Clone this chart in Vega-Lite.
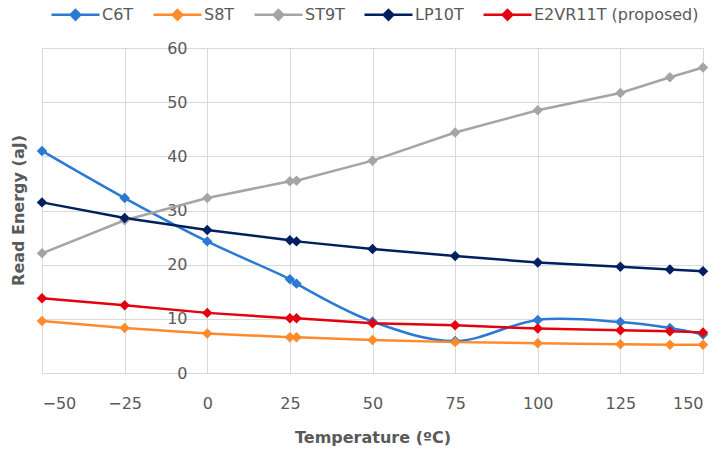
{
  "$schema": "https://vega.github.io/schema/vega-lite/v6.json",
  "width": 661,
  "height": 325,
  "autosize": "none",
  "padding": {"left": 42, "top": 48, "right": 22, "bottom": 84},
  "background": "white",
  "config": {
    "view": {"stroke": null},
    "font": "DejaVu Sans",
    "axis": {"gridColor": "#d9d9d9", "gridWidth": 1, "domain": false, "ticks": false, "labelFont": "DejaVu Sans", "labelFontSize": 16, "labelColor": "#595959", "titleFont": "DejaVu Sans", "titleFontSize": 16, "titleFontWeight": "bold", "titleColor": "#595959"}
  },
  "data": {"values": [
    {"series": "C6T", "t": -50, "e": 41.0}, {"series": "C6T", "t": -25, "e": 32.3}, {"series": "C6T", "t": 0, "e": 24.3}, {"series": "C6T", "t": 25, "e": 17.3}, {"series": "C6T", "t": 27, "e": 16.5}, {"series": "C6T", "t": 50, "e": 9.5}, {"series": "C6T", "t": 75, "e": 5.9}, {"series": "C6T", "t": 100, "e": 9.8}, {"series": "C6T", "t": 125, "e": 9.4}, {"series": "C6T", "t": 140, "e": 8.3}, {"series": "C6T", "t": 150, "e": 7.1},
    {"series": "S8T", "t": -50, "e": 9.6}, {"series": "S8T", "t": -25, "e": 8.3}, {"series": "S8T", "t": 0, "e": 7.3}, {"series": "S8T", "t": 25, "e": 6.6}, {"series": "S8T", "t": 27, "e": 6.6}, {"series": "S8T", "t": 50, "e": 6.1}, {"series": "S8T", "t": 75, "e": 5.7}, {"series": "S8T", "t": 100, "e": 5.5}, {"series": "S8T", "t": 125, "e": 5.3}, {"series": "S8T", "t": 140, "e": 5.2}, {"series": "S8T", "t": 150, "e": 5.2},
    {"series": "ST9T", "t": -50, "e": 22.1}, {"series": "ST9T", "t": -25, "e": 28.2}, {"series": "ST9T", "t": 0, "e": 32.3}, {"series": "ST9T", "t": 25, "e": 35.4}, {"series": "ST9T", "t": 27, "e": 35.5}, {"series": "ST9T", "t": 50, "e": 39.2}, {"series": "ST9T", "t": 75, "e": 44.4}, {"series": "ST9T", "t": 100, "e": 48.5}, {"series": "ST9T", "t": 125, "e": 51.7}, {"series": "ST9T", "t": 140, "e": 54.6}, {"series": "ST9T", "t": 150, "e": 56.4},
    {"series": "LP10T", "t": -50, "e": 31.5}, {"series": "LP10T", "t": -25, "e": 28.6}, {"series": "LP10T", "t": 0, "e": 26.4}, {"series": "LP10T", "t": 25, "e": 24.5}, {"series": "LP10T", "t": 27, "e": 24.3}, {"series": "LP10T", "t": 50, "e": 22.9}, {"series": "LP10T", "t": 75, "e": 21.6}, {"series": "LP10T", "t": 100, "e": 20.4}, {"series": "LP10T", "t": 125, "e": 19.6}, {"series": "LP10T", "t": 140, "e": 19.1}, {"series": "LP10T", "t": 150, "e": 18.8},
    {"series": "E2VR11T (proposed)", "t": -50, "e": 13.8}, {"series": "E2VR11T (proposed)", "t": -25, "e": 12.5}, {"series": "E2VR11T (proposed)", "t": 0, "e": 11.1}, {"series": "E2VR11T (proposed)", "t": 25, "e": 10.1}, {"series": "E2VR11T (proposed)", "t": 27, "e": 10.1}, {"series": "E2VR11T (proposed)", "t": 50, "e": 9.2}, {"series": "E2VR11T (proposed)", "t": 75, "e": 8.8}, {"series": "E2VR11T (proposed)", "t": 100, "e": 8.2}, {"series": "E2VR11T (proposed)", "t": 125, "e": 7.9}, {"series": "E2VR11T (proposed)", "t": 140, "e": 7.7}, {"series": "E2VR11T (proposed)", "t": 150, "e": 7.5}
  ]},
  "encoding": {
    "x": {"field": "t", "type": "quantitative", "scale": {"domain": [-50, 150], "nice": false, "zero": false}, "axis": {"values": [-50, -25, 0, 25, 50, 75, 100, 125, 150], "labelPadding": 22, "title": "Temperature (ºC)", "titlePadding": 18}},
    "y": {"field": "e", "type": "quantitative", "scale": {"domain": [0, 60], "nice": false}, "axis": {"values": [0, 10, 20, 30, 40, 50, 60], "offset": -165, "labelPadding": 20, "title": "Read Energy (aJ)", "titleX": -189, "titleY": 162, "titleAlign": "center", "titleBaseline": "middle", "titleAngle": -90}},
    "color": {"field": "series", "type": "nominal", "scale": {"domain": ["C6T", "S8T", "ST9T", "LP10T", "E2VR11T (proposed)"], "range": ["#2A7AD3", "#FF8A2B", "#A5A5A5", "#002060", "#E3000F"]},
      "legend": {"title": null, "orient": "none", "direction": "horizontal", "legendX": 8, "legendY": -59, "padding": 0, "symbolType": "M-1,0L1,0M0,-0.2L0.2,0L0,0.2L-0.2,0Z", "symbolSize": 2304, "symbolStrokeWidth": 2.5, "labelFont": "DejaVu Sans", "labelFontSize": 16, "labelColor": "#595959", "labelOffset": 1, "labelLimit": 400, "columnPadding": 14,
        "encode": {"symbols": {"update": {"fill": {"scale": "color", "field": "value"}, "stroke": {"scale": "color", "field": "value"}, "opacity": {"value": 1}}}}}}
  },
  "layer": [
    {"transform": [{"filter": "datum.series === 'C6T'"}], "mark": {"type": "line", "interpolate": "catmull-rom", "strokeWidth": 2.5}},
    {"transform": [{"filter": "datum.series !== 'C6T'"}], "mark": {"type": "line", "strokeWidth": 2.5}},
    {"mark": {"type": "point", "shape": "diamond", "filled": true, "size": 110, "opacity": 1}}
  ]
}
